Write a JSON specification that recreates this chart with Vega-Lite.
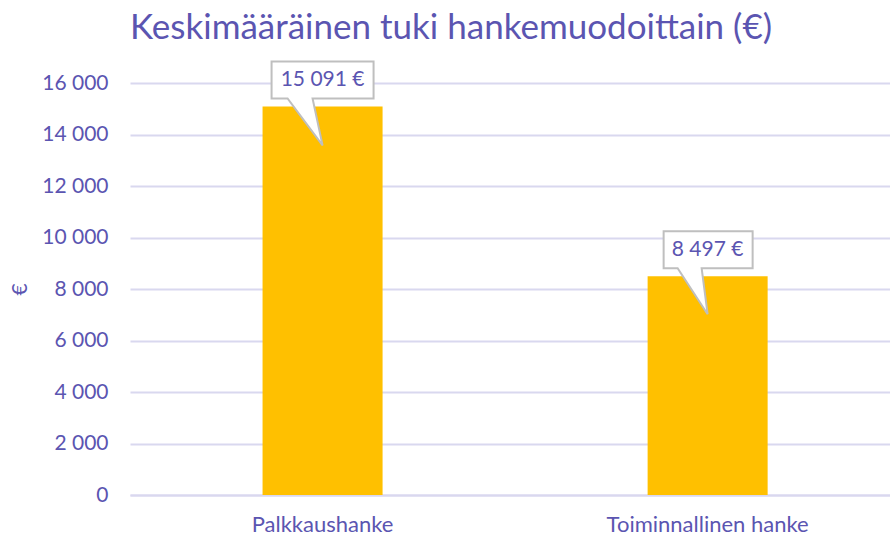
{
  "$schema": "https://vega.github.io/schema/vega-lite/v6.json",
  "width": 760,
  "height": 412,
  "autosize": "none",
  "padding": {"left": 130, "top": 83, "right": 0, "bottom": 40},
  "background": "white",
  "title": {
    "text": "Keskimääräinen tuki hankemuodoittain (€)",
    "anchor": "start",
    "frame": "group",
    "font": "Lato",
    "fontSize": 35,
    "fontWeight": "normal",
    "color": "#5B55B1",
    "baseline": "alphabetic",
    "offset": 14,
    "dy": 31
  },
  "data": {
    "values": [
      {"hanke": "Palkkaushanke", "tuki": 15091},
      {"hanke": "Toiminnallinen hanke", "tuki": 8497}
    ]
  },
  "encoding": {
    "x": {
      "field": "hanke",
      "type": "nominal",
      "sort": null,
      "scale": {"paddingInner": 0.6883, "paddingOuter": 0.331, "align": 0.52},
      "axis": {
        "title": null,
        "labelAngle": 0,
        "labelFont": "Lato",
        "labelFontSize": 22,
        "labelColor": "#5B55B1",
        "labelPadding": 19,
        "labelLimit": 0,
        "ticks": false,
        "domainColor": "#D9D8EF",
        "domainWidth": 2
      }
    },
    "y": {
      "field": "tuki",
      "type": "quantitative",
      "scale": {"domain": [0, 16000], "nice": false},
      "axis": {
        "title": "€",
        "titleFont": "Lato",
        "titleFontSize": 21,
        "titleFontWeight": "normal",
        "titleColor": "#5B55B1",
        "titleX": -110,
        "titleY": 206,
        "titleAlign": "center",
        "titleBaseline": "middle",
        "tickCount": 8,
        "format": ",.0f",
        "labelFont": "Lato",
        "labelFontSize": 21,
        "labelColor": "#5B55B1",
        "labelPadding": 22,
        "ticks": false,
        "domain": false,
        "grid": true,
        "gridColor": "#D9D8EF",
        "gridWidth": 2
      }
    }
  },
  "layer": [
    {"mark": {"type": "bar", "color": "#FFC000"}},
    {
      "mark": {"type": "point", "filled": true, "fill": "white", "stroke": "#BFBFBF", "strokeWidth": 2, "opacity": 1, "size": 10000},
      "encoding": {
        "shape": {
          "field": "hanke",
          "type": "nominal",
          "sort": null,
          "legend": null,
          "scale": {
            "range": [
              "M -1.02 -0.9 L 1.02 -0.9 L 1.02 -0.16 L -0.2 -0.16 L 0 0.78 L -0.7 -0.16 L -1.02 -0.16 Z",
              "M -0.88 -0.9 L 0.9 -0.9 L 0.9 -0.16 L -0.12 -0.16 L 0 0.76 L -0.6 -0.16 L -0.88 -0.16 Z"
            ]
          }
        }
      }
    },
    {
      "mark": {"type": "text", "font": "Lato", "fontSize": 21, "color": "#5B55B1", "baseline": "middle", "dy": -26.5},
      "encoding": {"text": {"field": "tuki", "type": "quantitative", "format": "$,.0f"}}
    }
  ],
  "config": {
    "locale": {
      "number": {"decimal": ",", "thousands": "\u00a0", "grouping": [3], "currency": ["", "\u00a0€"]}
    },
    "view": {"stroke": null}
  }
}
